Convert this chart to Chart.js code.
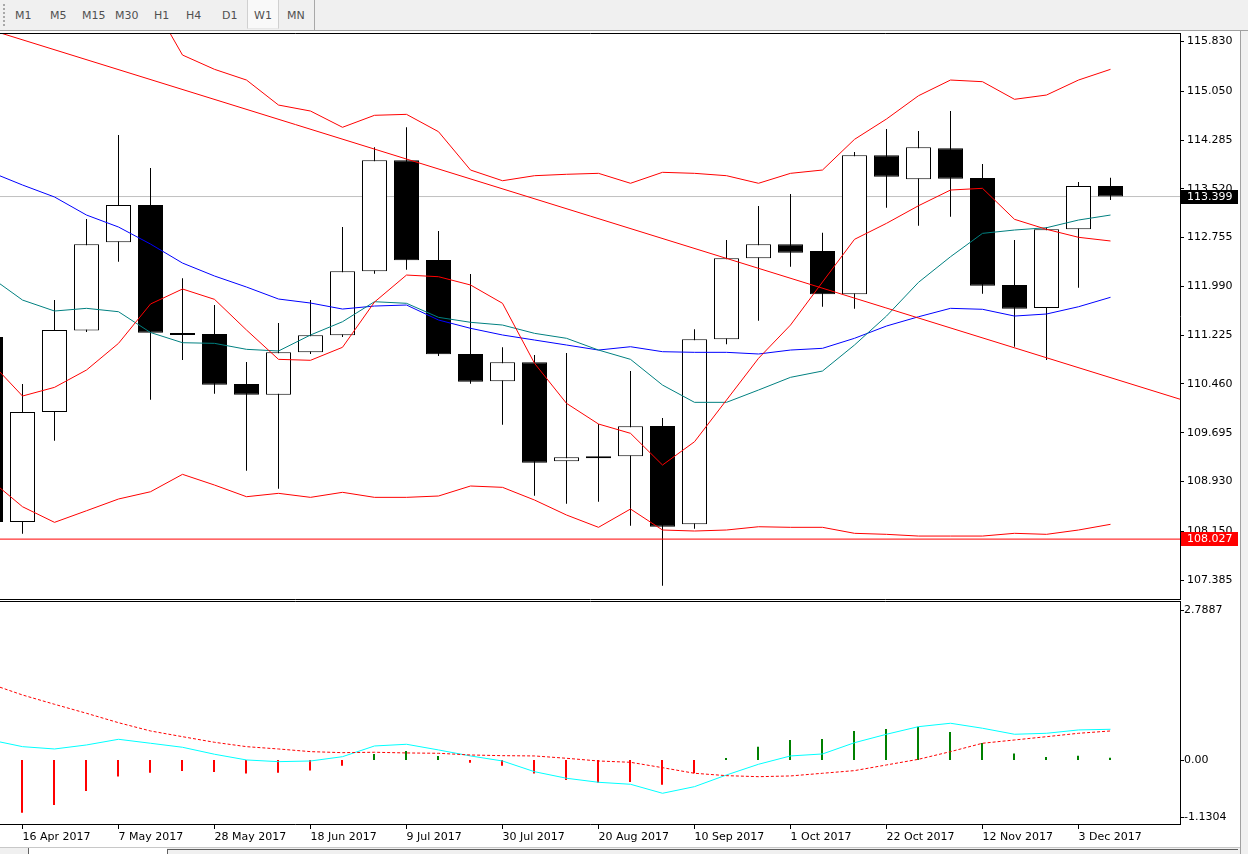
<!DOCTYPE html>
<html>
<head>
<meta charset="utf-8">
<title>USDJPY,Weekly</title>
<script src="https://cdn.jsdelivr.net/npm/chart.js@4.4.1/dist/chart.umd.min.js"></script>
<style>
body { margin: 0; width: 1248px; height: 854px; overflow: hidden; position: relative; background: #fff; font-family: "DejaVu Sans", sans-serif; }
#toolbar { position: absolute; left: 0; top: 0; width: 1248px; height: 30px; background: #f0f0f0; border-bottom: 1px solid #a0a0a0; }
#toolbar .grip { position: absolute; left: 3px; top: 4px; width: 0; height: 22px; border-left: 2px dotted #a8a8a8; }
#toolbar .on { position: absolute; left: 247px; top: 0; width: 30px; height: 28px; background: #f9f9f9; border-left: 1px solid #d0d0d0; border-right: 1px solid #d0d0d0; border-bottom: 1px solid #e8e8e8; }
#toolbar .sep { position: absolute; left: 314px; top: 0; width: 1px; height: 30px; background: #a8a8a8; }
#toolbar .btn { position: absolute; top: 9px; font-size: 11px; line-height: 13px; color: #505050; }
#mainBox { position: absolute; left: 0; top: 32px; }
#subBox { position: absolute; left: 0; top: 600px; }
#edge { position: absolute; left: 1240px; top: 31px; width: 8px; height: 823px; background: #f0f0f0; border-left: 1px solid #a0a0a0; }
#tabs { position: absolute; left: 0; top: 847px; width: 1240px; height: 7px; background: #f0f0f0; border-top: 1px solid #c8c8c8; }
#tabs .t1 { position: absolute; left: 28px; top: 0; width: 138px; height: 7px; background: #fff; border-left: 1px solid #606060; }
#tabs .t2 { position: absolute; left: 167px; top: 1px; width: 1070px; height: 6px; border-left: 1px solid #606060; border-top: 1px solid #606060; }
</style>
</head>
<body>
<div id="toolbar">
  <div class="grip"></div>
  <span class="btn" style="left:15px">M1</span>
  <span class="btn" style="left:50px">M5</span>
  <span class="btn" style="left:82px">M15</span>
  <span class="btn" style="left:115px">M30</span>
  <span class="btn" style="left:154px">H1</span>
  <span class="btn" style="left:186px">H4</span>
  <span class="btn" style="left:222px">D1</span>
  <div class="on"></div>
  <span class="btn" style="left:254px">W1</span>
  <span class="btn" style="left:287px">MN</span>
  <div class="sep"></div>
</div>
<div id="mainBox"><canvas id="main" width="1248" height="569"></canvas></div>
<div id="subBox"><canvas id="sub" width="1248" height="248"></canvas></div>
<div id="edge"></div>
<div id="tabs"><div class="t1"></div><div class="t2"></div></div>

<script>
// weekly bars, index 0 is the half hidden bar at the left edge
var weeks = ['9 Apr 2017', '16 Apr 2017', '23 Apr 2017', '30 Apr 2017', '7 May 2017', '14 May 2017',
  '21 May 2017', '28 May 2017', '4 Jun 2017', '11 Jun 2017', '18 Jun 2017', '25 Jun 2017',
  '2 Jul 2017', '9 Jul 2017', '16 Jul 2017', '23 Jul 2017', '30 Jul 2017', '6 Aug 2017',
  '13 Aug 2017', '20 Aug 2017', '27 Aug 2017', '3 Sep 2017', '10 Sep 2017', '17 Sep 2017',
  '24 Sep 2017', '1 Oct 2017', '8 Oct 2017', '15 Oct 2017', '22 Oct 2017', '29 Oct 2017',
  '5 Nov 2017', '12 Nov 2017', '19 Nov 2017', '26 Nov 2017', '3 Dec 2017', '10 Dec 2017'];

var opens = [111.196, 108.295, 110.020, 111.298, 112.681, 113.266, 111.259, 111.243, 110.459, 110.291, 110.956, 111.223,
  112.226, 113.967, 112.404, 110.930, 110.501, 110.799, 109.247, 109.325, 109.325, 109.800, 108.259, 111.160,
  112.430, 112.650, 112.545, 111.866, 114.045, 113.669, 114.155, 113.690, 112.012, 111.651, 112.885, 113.564];
var highs = [111.400, 110.459, 111.776, 113.047, 114.364, 113.846, 112.117, 111.698, 110.804, 111.416, 111.776, 112.921,
  114.171, 114.485, 112.858, 112.184, 111.035, 110.914, 110.945, 109.832, 110.663, 109.926, 111.317, 112.717,
  113.250, 113.439, 112.832, 114.097, 114.458, 114.427, 114.740, 113.909, 112.717, 112.916, 113.627, 113.694];
var lows = [108.200, 108.112, 109.570, 111.275, 112.377, 110.213, 110.836, 110.307, 109.099, 108.817, 110.930, 111.196,
  112.189, 112.252, 110.898, 110.464, 109.821, 108.708, 108.582, 108.613, 108.237, 107.296, 108.190, 111.082,
  111.452, 112.299, 111.671, 111.640, 113.224, 112.941, 113.083, 111.875, 111.044, 110.836, 111.969, 113.344];
var closes = [108.295, 110.020, 111.306, 112.650, 113.266, 111.264, 111.229, 110.448, 110.291, 110.956, 111.223, 112.226,
  113.967, 112.399, 110.925, 110.495, 110.799, 109.225, 109.310, 109.295, 109.796, 108.221, 111.160, 112.430,
  112.650, 112.518, 111.866, 114.045, 113.710, 114.171, 113.679, 112.001, 111.640, 112.885, 113.564, 113.399];

// red envelope lines and the two moving averages
var bandUpper = [117.300, 117.100, 116.950, 116.800, 116.650, 116.496, 115.618, 115.394, 115.226, 114.834, 114.740, 114.485,
  114.673, 114.688, 114.416, 113.815, 113.647, 113.726, 113.748, 113.763, 113.607, 113.779, 113.763, 113.726,
  113.607, 113.763, 113.815, 114.296, 114.615, 114.980, 115.226, 115.200, 114.924, 114.991, 115.226, 115.394];
var bandMiddle = [110.804, 110.271, 110.407, 110.679, 111.097, 111.714, 111.949, 111.787, 111.306, 110.846, 110.831, 111.035,
  111.745, 112.168, 112.142, 112.012, 111.725, 110.784, 110.156, 109.832, 109.686, 109.189, 109.554, 110.208,
  110.862, 111.384, 112.059, 112.728, 112.979, 113.255, 113.501, 113.528, 113.042, 112.885, 112.760, 112.702];
var bandLower = [108.954, 108.535, 108.290, 108.472, 108.656, 108.770, 109.043, 108.875, 108.692, 108.745, 108.682, 108.761,
  108.682, 108.682, 108.703, 108.860, 108.839, 108.640, 108.405, 108.212, 108.499, 108.170, 108.154, 108.170,
  108.221, 108.212, 108.212, 108.118, 108.102, 108.075, 108.075, 108.075, 108.118, 108.102, 108.170, 108.259];
var maSlow = [113.784, 113.580, 113.392, 113.109, 112.921, 112.654, 112.356, 112.153, 111.980, 111.792, 111.729, 111.635,
  111.682, 111.698, 111.463, 111.333, 111.228, 111.149, 111.071, 110.992, 111.044, 110.966, 110.956, 110.956,
  110.930, 110.992, 111.019, 111.176, 111.369, 111.514, 111.646, 111.631, 111.525, 111.557, 111.671, 111.819];
var maFast = [112.137, 111.776, 111.604, 111.646, 111.593, 111.267, 111.107, 111.097, 111.003, 110.977, 111.228, 111.436,
  111.750, 111.725, 111.505, 111.427, 111.384, 111.254, 111.176, 110.992, 110.846, 110.443, 110.172, 110.172,
  110.365, 110.564, 110.663, 111.071, 111.525, 112.054, 112.455, 112.822, 112.874, 112.910, 113.031, 113.109];

// trend line anchors (bar index, price), horizontal level
var trendIdx = [1, 33];
var trendVals = [115.857, 110.871];
var levelPrice = 108.027;
var priceTicks = [115.830, 115.050, 114.285, 113.520, 112.755, 111.990, 111.225, 110.460, 109.695, 108.930, 108.150, 107.385];

// oscillator window
var macdHist = [-1.050, -0.930, -0.794, -0.547, -0.294, -0.224, -0.194, -0.212, -0.241, -0.224, -0.188, -0.100,
  0.106, 0.159, 0.071, -0.047, -0.100, -0.241, -0.353, -0.400, -0.388, -0.436, -0.235, 0.035,
  0.235, 0.353, 0.371, 0.512, 0.547, 0.588, 0.494, 0.300, 0.112, 0.053, 0.076, 0.041];
var macdMain = [0.353, 0.235, 0.194, 0.265, 0.365, 0.295, 0.224, 0.101, 0.000, -0.030, -0.018, 0.058,
  0.247, 0.277, 0.177, 0.071, -0.018, -0.207, -0.323, -0.394, -0.429, -0.588, -0.471, -0.265,
  -0.076, 0.071, 0.106, 0.305, 0.454, 0.588, 0.648, 0.560, 0.454, 0.471, 0.530, 0.542];
var macdSignal = [1.342, 1.147, 0.983, 0.824, 0.658, 0.512, 0.411, 0.312, 0.235, 0.194, 0.147, 0.129,
  0.136, 0.124, 0.118, 0.088, 0.076, 0.071, 0.030, -0.018, -0.041, -0.136, -0.235, -0.277,
  -0.295, -0.282, -0.235, -0.188, -0.088, 0.012, 0.147, 0.295, 0.353, 0.411, 0.471, 0.512];
var macdTicks = [2.7887, 0, -1.1304];
var macdTickLabels = ['2.7887', '0.00', '-1.1304'];

var dateTicks = ['16 Apr 2017', '7 May 2017', '28 May 2017', '18 Jun 2017', '9 Jul 2017', '30 Jul 2017',
  '20 Aug 2017', '10 Sep 2017', '1 Oct 2017', '22 Oct 2017', '12 Nov 2017', '3 Dec 2017'];

// visible window (bar index units) and price range of the panes
var XMIN = 0.296875, XMAX = 37.171875;
var priceMin = 107.088, priceMax = 115.948;
var macdMin = macdTicks[2], macdMax = macdTicks[0];

Chart.defaults.font.family = '"DejaVu Sans"';
Chart.defaults.font.size = 11;
Chart.defaults.color = '#000';

function pts(arr) {
  return arr.map(function(v, i) { return {x: i, y: v}; });
}

function lineSet(arr, color, order) {
  return {type: 'line', data: pts(arr), borderColor: color, borderWidth: 1, pointRadius: 0, tension: 0, order: order};
}

// right axis: fixed width, no extra room for half labels
function fixAxis(s) {
  s.width = 68;
  s.paddingTop = 0;
  s.paddingBottom = 0;
}

var bidPrice = closes[closes.length - 1];
var slope = (trendVals[1] - trendVals[0]) / (trendIdx[1] - trendIdx[0]);
function trendAt(x) { return trendVals[0] + (x - trendIdx[0]) * slope; }

var framePlugin = {
  id: 'frame',
  afterDraw: function(chart) {
    var a = chart.chartArea, ctx = chart.ctx;
    ctx.save();
    ctx.strokeStyle = '#000';
    ctx.lineWidth = 1;
    ctx.beginPath();
    ctx.moveTo(a.left, a.top - 0.5); ctx.lineTo(a.right + 1, a.top - 0.5);
    ctx.moveTo(a.right + 0.5, a.top - 1); ctx.lineTo(a.right + 0.5, a.bottom + 1);
    ctx.moveTo(a.left, a.bottom + 0.5); ctx.lineTo(a.right + 1, a.bottom + 0.5);
    ctx.stroke();
    ctx.restore();
  }
};

var pricePlugin = {
  id: 'priceTags',
  afterDraw: function(chart) {
    var y = chart.scales.y, a = chart.chartArea, ctx = chart.ctx;
    ctx.save();
    ctx.font = '11px "DejaVu Sans"';
    ctx.textBaseline = 'middle';
    [[bidPrice, '#000000'], [levelPrice, '#ff0000']].forEach(function(p) {
      var py = Math.round(y.getPixelForValue(p[0]));
      ctx.fillStyle = p[1];
      ctx.fillRect(a.right + 1, py - 7, 57, 14);
      ctx.fillStyle = '#ffffff';
      ctx.fillText(p[0].toFixed(3), a.right + 7, py + 0.5);
    });
    ctx.restore();
  }
};

var macdAxisPlugin = {
  id: 'macdAxis',
  afterDraw: function(chart) {
    var y = chart.scales.y, a = chart.chartArea, ctx = chart.ctx;
    ctx.save();
    ctx.font = '11px "DejaVu Sans"';
    ctx.fillStyle = '#000';
    ctx.strokeStyle = '#000';
    ctx.lineWidth = 1;
    ctx.textBaseline = 'middle';
    macdTicks.forEach(function(v, i) {
      var py = Math.round(Math.min(Math.max(y.getPixelForValue(v), a.top + 8), a.bottom - 7)) + 0.5;
      ctx.beginPath(); ctx.moveTo(a.right + 1, py); ctx.lineTo(a.right + 4, py); ctx.stroke();
      ctx.fillText(macdTickLabels[i], a.right + 4, py);
    });
    ctx.restore();
  }
};

new Chart(document.getElementById('main'), {
  type: 'bar',
  data: {
    datasets: [
      {type: 'line', data: [{x: XMIN, y: bidPrice}, {x: XMAX, y: bidPrice}], borderColor: '#c0c0c0', borderWidth: 1, pointRadius: 0, order: 10},
      {data: lows.map(function(l, i) { return {x: i, y: [l, highs[i]]}; }),
        backgroundColor: '#000', barThickness: 1, maxBarThickness: 1, grouped: false, inflateAmount: 0, order: 9},
      {data: opens.map(function(o, i) { return {x: i, y: [o, closes[i]]}; }),
        backgroundColor: function(c) { var i = c.dataIndex; return closes[i] < opens[i] ? '#000000' : '#ffffff'; },
        borderColor: '#000', borderWidth: 1, borderSkipped: false,
        barThickness: 25, maxBarThickness: 25, grouped: false, inflateAmount: 0, order: 8},
      lineSet(bandUpper, '#ff0000', 5),
      lineSet(bandLower, '#ff0000', 5),
      lineSet(maSlow, '#0000ff', 4),
      lineSet(maFast, '#008080', 3),
      lineSet(bandMiddle, '#ff0000', 2),
      {type: 'line', data: [{x: XMIN, y: trendAt(XMIN)}, {x: XMAX, y: trendAt(XMAX)}], borderColor: '#ff0000', borderWidth: 1, pointRadius: 0, order: 1},
      {type: 'line', data: [{x: XMIN, y: levelPrice}, {x: XMAX, y: levelPrice}], borderColor: '#ff0000', borderWidth: 1, pointRadius: 0, order: 0}
    ]
  },
  options: {
    responsive: false,
    animation: false,
    events: [],
    devicePixelRatio: 1,
    layout: {padding: {top: 2, bottom: 2, left: 0, right: 0}},
    plugins: {legend: {display: false}, tooltip: {enabled: false}},
    scales: {
      x: {type: 'linear', min: XMIN, max: XMAX, display: false, offset: false, grid: {offset: false}},
      y: {
        type: 'linear', position: 'right', min: priceMin, max: priceMax,
        afterFit: fixAxis,
        afterBuildTicks: function(s) { s.ticks = priceTicks.map(function(v) { return {value: v}; }); },
        ticks: {callback: function(v) { return v.toFixed(3); }, color: '#000', padding: 3},
        grid: {drawOnChartArea: false, tickLength: 4, color: '#000'},
        border: {display: false}
      }
    }
  },
  plugins: [framePlugin, pricePlugin]
});

new Chart(document.getElementById('sub'), {
  type: 'bar',
  data: {
    datasets: [
      {data: pts(macdHist), xAxisID: 'xh',
        backgroundColor: function(c) { return macdHist[c.dataIndex] >= 0 ? '#008000' : '#ff0000'; },
        barThickness: 2, maxBarThickness: 2, grouped: false, inflateAmount: 0, order: 3},
      lineSet(macdMain, '#00ffff', 2),
      {type: 'line', data: pts(macdSignal), borderColor: '#ff0000', borderWidth: 1, borderDash: [3, 2], pointRadius: 0, tension: 0, order: 1}
    ]
  },
  options: {
    responsive: false,
    animation: false,
    events: [],
    devicePixelRatio: 1,
    layout: {padding: {top: 2, bottom: 0, left: 0, right: 0}},
    plugins: {legend: {display: false}, tooltip: {enabled: false}},
    scales: {
      x: {
        type: 'linear', position: 'bottom', min: XMIN, max: XMAX, offset: false,
        afterBuildTicks: function(s) { s.ticks = dateTicks.map(function(d) { return {value: weeks.indexOf(d)}; }); },
        afterFit: function(s) { s.height = 24; },
        ticks: {align: 'start', autoSkip: false, maxRotation: 0, color: '#000', padding: 2,
          callback: function(v) { return weeks[v]; }},
        grid: {drawOnChartArea: false, tickLength: 5, color: '#000', offset: false},
        border: {display: false}
      },
      xh: {type: 'linear', min: XMIN + 0.5 / 32, max: XMAX + 0.5 / 32, display: false, offset: false},
      y: {
        type: 'linear', position: 'right', min: macdMin, max: macdMax,
        afterFit: fixAxis,
        ticks: {display: false},
        grid: {display: false},
        border: {display: false}
      }
    }
  },
  plugins: [framePlugin, macdAxisPlugin]
});
</script>
</body>
</html>
